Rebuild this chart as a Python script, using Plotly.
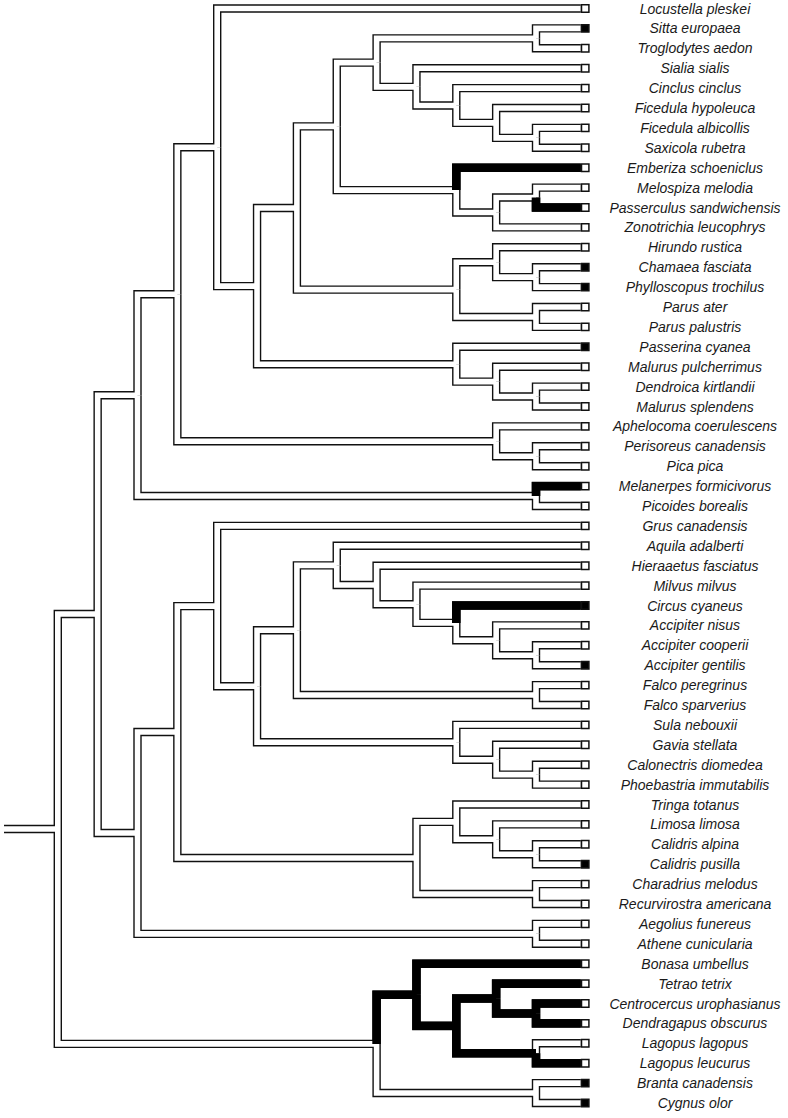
import plotly.graph_objects as go

species = [
    "Locustella pleskei", "Sitta europaea", "Troglodytes aedon", "Sialia sialis",
    "Cinclus cinclus", "Ficedula hypoleuca", "Ficedula albicollis", "Saxicola rubetra",
    "Emberiza schoeniclus", "Melospiza melodia", "Passerculus sandwichensis",
    "Zonotrichia leucophrys", "Hirundo rustica", "Chamaea fasciata",
    "Phylloscopus trochilus", "Parus ater", "Parus palustris", "Passerina cyanea",
    "Malurus pulcherrimus", "Dendroica kirtlandii", "Malurus splendens",
    "Aphelocoma coerulescens", "Perisoreus canadensis", "Pica pica",
    "Melanerpes formicivorus", "Picoides borealis", "Grus canadensis",
    "Aquila adalberti", "Hieraaetus fasciatus", "Milvus milvus", "Circus cyaneus",
    "Accipiter nisus", "Accipiter cooperii", "Accipiter gentilis", "Falco peregrinus",
    "Falco sparverius", "Sula nebouxii", "Gavia stellata", "Calonectris diomedea",
    "Phoebastria immutabilis", "Tringa totanus", "Limosa limosa", "Calidris alpina",
    "Calidris pusilla", "Charadrius melodus", "Recurvirostra americana",
    "Aegolius funereus", "Athene cunicularia", "Bonasa umbellus", "Tetrao tetrix",
    "Centrocercus urophasianus", "Dendragapus obscurus", "Lagopus lagopus",
    "Lagopus leucurus", "Branta canadensis", "Cygnus olor",
]

# tip states (filled square = state 1)
filled_tips = [1, 13, 14, 17, 30, 33, 43, 54, 55]

# topology: tips are indices into `species`, number after ")" = node depth level,
# "*" marks a branch reconstructed in the black state
clade_oscines = "(((1,2)12,(3,(4,(5,(6,7)12)11)10)9)8,(8*,((9,10*)12,11)11)10)7"
clade_hirundo = "((12,(13,14)12)11,(15,16)12)10"
clade_passerina = "(17,(18,(19,20)12)11)10"
clade_corvids = "(21,(22,23)12)11"
clade_picids = "(24*,25)12"
clade_raptors = "(27,(28,(29,(30*,(31,(32,33)12)11)10)9)8)7"
clade_falcons = "(34,35)12"
clade_seabirds = "(36,(37,(38,39)12)11)10"
clade_shorebirds = "((40,(41,(42,43)12)11)10,(44,45)12)9"
clade_owls = "(46,47)12"
clade_galloanserae = "((48*,((49*,(50*,51*)12*)11*,(52,53*)12*)10*)9*,(54,55)12)8"

upper = "(((0,((" + clade_oscines + "," + clade_hirundo + ")6," + clade_passerina + ")5)4," \
        + clade_corvids + ")3," + clade_picids + ")2"
lower = "(((26,((" + clade_raptors + "," + clade_falcons + ")6," + clade_seabirds + ")5)4," \
        + clade_shorebirds + ")3," + clade_owls + ")2"
newick = "((" + upper + "," + lower + ")1," + clade_galloanserae + ")0"

TIP_X = 13.124      # tip branch end (in depth-level units)
MARK_X = 13.235     # state square
LABEL_X = 15.99     # label centre
ROOT_X = -1.35      # root stub start


def parse(s):
    i = 0

    def read_label():
        nonlocal i
        j = i
        while i < len(s) and s[i] not in ",()":
            i += 1
        return s[j:i]

    def node():
        nonlocal i
        if s[i] == "(":
            i += 1
            kids = [node()]
            while s[i] == ",":
                i += 1
                kids.append(node())
            i += 1
            lab = read_label()
            return {"level": int(lab.rstrip("*")), "black": lab.endswith("*"), "kids": kids}
        lab = read_label()
        return {"tip": int(lab.rstrip("*")), "black": lab.endswith("*")}

    return node()


def place(n):
    if "tip" in n:
        n["x"], n["y"] = TIP_X, n["tip"]
    else:
        for k in n["kids"]:
            place(k)
        n["x"] = n["level"]
        n["y"] = (n["kids"][0]["y"] + n["kids"][-1]["y"]) / 2


tree = parse(newick)
place(tree)

all_x, all_y, wx, wy, bx, by = [], [], [], [], [], []


def add(path, black):
    xs = [p[0] for p in path] + [None]
    ys = [p[1] for p in path] + [None]
    all_x.extend(xs); all_y.extend(ys)
    if black:
        bx.extend(xs); by.extend(ys)
    else:
        wx.extend(xs); wy.extend(ys)


def walk(n):
    if "kids" not in n:
        return
    for k in n["kids"]:
        add([(n["x"], n["y"]), (n["x"], k["y"]), (k["x"], k["y"])], k["black"])
        walk(k)


add([(ROOT_X, tree["y"]), (tree["x"], tree["y"])], False)
walk(tree)

fig = go.Figure()
fig.add_trace(go.Scatter(x=all_x, y=all_y, mode="lines",
                         line=dict(color="#111111", width=8.4), hoverinfo="skip"))
fig.add_trace(go.Scatter(x=wx, y=wy, mode="lines",
                         line=dict(color="white", width=5.6), hoverinfo="skip"))
fig.add_trace(go.Scatter(x=bx, y=by, mode="lines",
                         line=dict(color="black", width=8.6), hoverinfo="skip"))

idx = list(range(len(species)))
fig.add_trace(go.Scatter(
    x=[MARK_X] * len(species), y=idx, mode="markers",
    marker=dict(symbol="square", size=7.4,
                color=["black" if i in filled_tips else "white" for i in idx],
                line=dict(color="#111111", width=1.5)),
    hoverinfo="skip"))
fig.add_trace(go.Scatter(
    x=[LABEL_X] * len(species), y=[i + 0.08 for i in idx], mode="text",
    text=species, textposition="middle center",
    textfont=dict(family="Liberation Sans, Arial, sans-serif", size=14,
                  color="#1a1a1a", style="italic"),
    hoverinfo="skip"))

fig.update_layout(
    width=788, height=1118, autosize=False,
    margin=dict(l=0, r=0, t=0, b=0),
    paper_bgcolor="white", plot_bgcolor="white",
    showlegend=False,
    xaxis=dict(range=[-1.4504, 18.3237], visible=False, fixedrange=True),
    yaxis=dict(range=[55.754, -0.4271], visible=False, fixedrange=True),
)

fig.write_html("out.html", config={"displayModeBar": False},
               post_script="document.body.style.margin='0px';")
